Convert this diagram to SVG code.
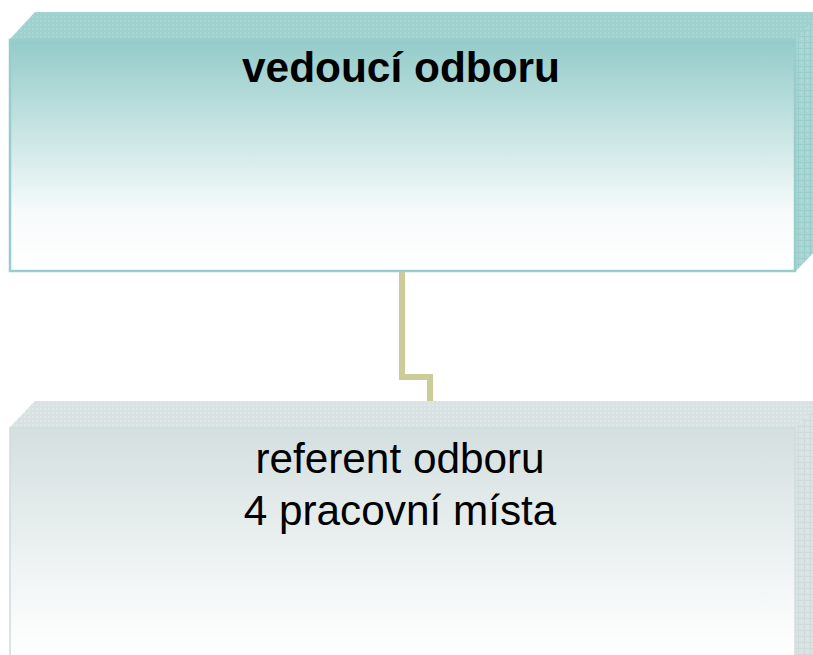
<svg xmlns="http://www.w3.org/2000/svg" width="813" height="655" viewBox="0 0 813 655">
<defs>
<linearGradient id="gTeal" x1="0" y1="0" x2="0" y2="1">
<stop offset="0" stop-color="#93cbc9"/>
<stop offset="0.75" stop-color="#f7fbfb"/>
<stop offset="1" stop-color="#ffffff"/>
</linearGradient>
<linearGradient id="gGray" x1="0" y1="0" x2="0" y2="1">
<stop offset="0" stop-color="#d4dfdf"/>
<stop offset="0.8" stop-color="#f9fbfb"/>
<stop offset="1" stop-color="#ffffff"/>
</linearGradient>
<pattern id="pTeal" width="6" height="6" patternUnits="userSpaceOnUse">
<rect width="6" height="6" fill="#a9d5d3"/>
<path d="M0 0H6M0 0V6" stroke="#8ec5c3" stroke-width="1"/>
<path d="M3 3h1" stroke="#c3e2e0" stroke-width="1"/>
</pattern>
<pattern id="pGray" width="6" height="6" patternUnits="userSpaceOnUse">
<rect width="6" height="6" fill="#dae3e3"/>
<path d="M0 0H6M0 0V6" stroke="#c8d4d4" stroke-width="1"/>
<path d="M3 3h1" stroke="#e8eeee" stroke-width="1"/>
</pattern>
<pattern id="pTopTeal" width="4" height="4" patternUnits="userSpaceOnUse">
<rect width="4" height="4" fill="#9fd1cf"/>
<rect width="2" height="2" fill="#a9d6d4"/>
</pattern>
<pattern id="pTopGray" width="4" height="4" patternUnits="userSpaceOnUse">
<rect width="4" height="4" fill="#d8e2e2"/>
<rect width="2" height="2" fill="#dfe7e7"/>
</pattern>
</defs>
<style>
.t{font-family:"Liberation Sans",Arial,sans-serif;fill:#000;text-anchor:middle}
</style>
<g id="connectors">
<polyline points="402,272 402,377 430,377 430,402" fill="none" stroke="#cccc99" stroke-width="6"/>
</g>
<g id="node-vedouci">
<polygon points="35,12 830,12 804,40 9,40" fill="url(#pTopTeal)"/>
<polygon points="795,40 822,12 822,244 795,272" fill="url(#pTeal)"/>
<rect x="10" y="40" width="785" height="231" fill="url(#gTeal)" stroke="#99cccc" stroke-width="2.5"/>
<text class="t" x="401" y="82" font-size="42.4" font-weight="bold">vedoucí odboru</text>
</g>
<g id="node-referent">
<polygon points="35,401 830,401 804,428 9,428" fill="url(#pTopGray)"/>
<polygon points="795,428 822,401 822,670 795,670" fill="url(#pGray)"/>
<rect x="10" y="428" width="785" height="240" fill="url(#gGray)" stroke="#d0dcdc" stroke-width="1.5"/>
<text class="t" x="400" y="473" font-size="42.3">referent odboru</text>
<text class="t" x="400" y="525" font-size="42.3">4 pracovní místa</text>
</g>
</svg>
